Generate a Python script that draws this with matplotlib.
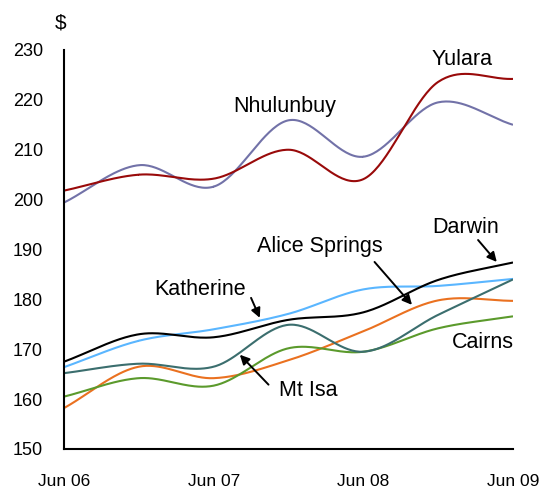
import numpy as np
import matplotlib
matplotlib.use("Agg")
import matplotlib.pyplot as plt

plt.rcParams["font.family"] = ["Liberation Sans", "DejaVu Sans"]

# semi-annual points, Jun 06 .. Jun 09 (months from Jun 06)
months = [0, 6, 12, 18, 24, 30, 36]
tick_months = [0, 12, 24, 36]
tick_labels = ["Jun 06", "Jun 07", "Jun 08", "Jun 09"]

nhulunbuy = [199.4, 206.9, 202.6, 215.9, 208.6, 219.5, 215.0]
yulara = [201.8, 205.0, 204.2, 210.0, 204.1, 223.6, 224.2]
darwin = [167.5, 173.0, 172.4, 175.9, 177.4, 183.9, 187.4]
katherine = [166.4, 171.7, 174.0, 177.1, 182.0, 182.7, 184.1]
mt_isa = [165.2, 167.1, 166.5, 174.9, 169.5, 176.9, 184.0]
alice_springs = [158.2, 166.5, 164.2, 167.8, 173.6, 179.8, 179.7]
cairns = [160.5, 164.2, 162.7, 170.2, 169.5, 174.2, 176.6]

series = [
    ("Nhulunbuy", nhulunbuy, "#7272a8"),
    ("Yulara", yulara, "#990a0a"),
    ("Katherine", katherine, "#5ab6ff"),
    ("Darwin", darwin, "#000000"),
    ("Alice Springs", alice_springs, "#ea7120"),
    ("Cairns", cairns, "#5b9a2c"),
    ("Mt Isa", mt_isa, "#3b6e6e"),
]


def smooth(x, y, n=40):
    # catmull-rom, close to Excel's smoothed line
    x = np.asarray(x, float)
    y = np.asarray(y, float)
    px = np.concatenate([[2 * x[0] - x[1]], x, [2 * x[-1] - x[-2]]])
    py = np.concatenate([[2 * y[0] - y[1]], y, [2 * y[-1] - y[-2]]])
    xs, ys = [], []
    t = np.linspace(0, 1, n)
    for i in range(1, len(px) - 2):
        for p, out in ((px, xs), (py, ys)):
            p0, p1, p2, p3 = p[i - 1], p[i], p[i + 1], p[i + 2]
            out.append(0.5 * (2 * p1 + (-p0 + p2) * t
                              + (2 * p0 - 5 * p1 + 4 * p2 - p3) * t ** 2
                              + (-p0 + 3 * p1 - 3 * p2 + p3) * t ** 3))
    return np.concatenate(xs), np.concatenate(ys)


fig = plt.figure(figsize=(5.42, 4.92), dpi=100)
ax = fig.add_axes([0.118, 0.0874, 0.8285, 0.811])

for name, vals, col in series:
    sx, sy = smooth(months, vals)
    ax.plot(sx, sy, color=col, lw=1.5, solid_capstyle="butt")

ax.set_xlim(0, 36)
ax.set_ylim(150, 230)
ax.set_yticks(range(150, 231, 10))
ax.set_xticks(tick_months)
ax.set_xticklabels(tick_labels)
ax.tick_params(length=0, labelsize=13)
ax.tick_params(axis="x", pad=18, labelsize=12.5)
ax.tick_params(axis="y", pad=15)
for s in ("top", "right"):
    ax.spines[s].set_visible(False)
for s in ("left", "bottom"):
    ax.spines[s].set_linewidth(1.5)

fs = 15.5
labels = [
    ("Nhulunbuy", 17.7, 218.6),
    ("Yulara", 31.9, 228.0),
    ("Darwin", 32.2, 194.5),
    ("Alice Springs", 20.5, 190.5),
    ("Katherine", 10.9, 181.9),
    ("Mt Isa", 19.6, 161.7),
    ("Cairns", 33.6, 171.3),
]
for txt, x, y in labels:
    ax.text(x, y, txt, fontsize=fs, ha="center", va="center", clip_on=False)

arrows = [
    ((33.2, 191.9), (34.7, 187.5)),
    ((24.9, 187.5), (27.9, 178.9)),
    ((15.0, 180.3), (15.7, 176.3)),
    ((16.4, 162.9), (14.1, 168.9)),
]
for start, end in arrows:
    ax.annotate("", xy=end, xytext=start,
                arrowprops=dict(arrowstyle="-|>", color="black", lw=1.4,
                                mutation_scale=14, shrinkA=0, shrinkB=0))

fig.text(0.112, 0.9526, "$", fontsize=15, ha="center", va="center")

fig.savefig("out.png", dpi=100)
